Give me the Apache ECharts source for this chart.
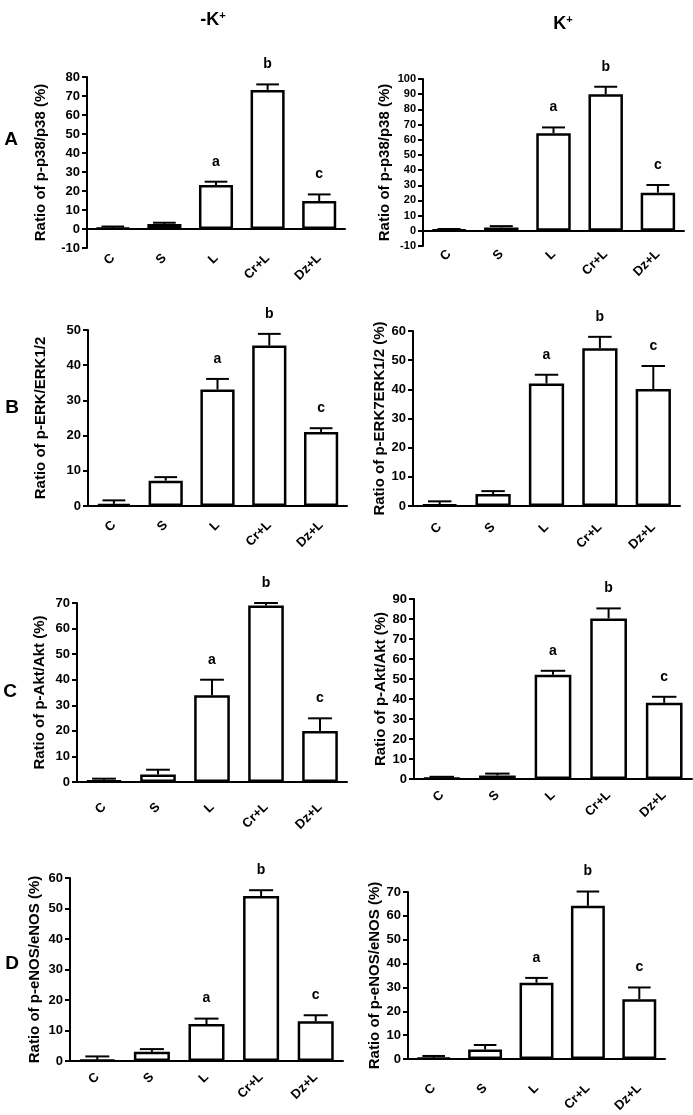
<!DOCTYPE html>
<html>
<head>
<meta charset="utf-8">
<script src="https://cdn.jsdelivr.net/npm/echarts@6/dist/echarts.min.js"></script>
<style>
html,body{margin:0;padding:0;background:#fff;}
#chart{width:693px;height:1115px;}
</style>
</head>
<body>
<div id="chart"></div>
<script>
// ---------- data ----------
const categories = ['C', 'S', 'L', 'Cr+L', 'Dz+L'];
const sigLetters = ['', '', 'a', 'b', 'c'];

const p38NoK      = [0.5, 2.6, 23.2, 73.2, 14.7];
const p38NoKErr   = [0.8, 0.7, 1.7, 2.9, 3.5];
const p38K        = [0.6, 2.2, 64.3, 89.9, 25.1];
const p38KErr     = [0.6, 0.9, 3.8, 5.0, 5.1];
const erkNoK      = [0.6, 7.2, 33.1, 45.6, 21.0];
const erkNoKErr   = [1.0, 1.0, 3.0, 3.3, 1.1];
const erkK        = [0.5, 4.1, 42.0, 54.1, 40.1];
const erkKErr     = [1.1, 1.0, 3.0, 3.9, 7.9];
const aktNoK      = [0.5, 2.9, 33.9, 69.0, 19.9];
const aktNoKErr   = [0.8, 1.9, 6.1, 1.0, 5.0];
const aktK        = [0.4, 1.8, 52.1, 80.3, 38.1];
const aktKErr     = [0.7, 0.9, 2.0, 5.0, 3.0];
const enosNoK     = [0.4, 3.0, 12.1, 54.1, 13.0];
const enosNoKErr  = [1.1, 0.9, 1.8, 1.9, 2.0];
const enosK       = [0.5, 4.0, 32.0, 64.2, 25.1];
const enosKErr    = [0.8, 1.9, 2.0, 6.0, 4.9];

const yNames = [
  'Ratio of p-p38/p38 (%)', 'Ratio of p-p38/p38 (%)',
  'Ratio of p-ERK/ERK1/2', 'Ratio of p-ERK7ERK1/2 (%)',
  'Ratio of p-Akt/Akt (%)', 'Ratio of p-Akt/Akt (%)',
  'Ratio of p-eNOS/eNOS (%)', 'Ratio of p-eNOS/eNOS (%)'
];
const yMins = [-10, -10, 0, 0, 0, 0, 0, 0];
const yMaxs = [80, 100, 50, 60, 70, 90, 60, 70];
const yInterval = 10;

const panelMeans = [p38NoK, p38K, erkNoK, erkK, aktNoK, aktK, enosNoK, enosK];
const panelErrs  = [p38NoKErr, p38KErr, erkNoKErr, erkKErr, aktNoKErr, aktKErr, enosNoKErr, enosKErr];

const columnTitles = ['-K', 'K'];
const rowLetters = ['A', 'B', 'C', 'D'];

// ---------- layout ----------
const grids = [
  {left: 87,  top: 77,  width: 258, height: 171},
  {left: 423, top: 79,  width: 261, height: 167},
  {left: 88,  top: 330, width: 259, height: 176},
  {left: 413, top: 331, width: 267, height: 175},
  {left: 77,  top: 603, width: 270, height: 179},
  {left: 414, top: 599, width: 278, height: 180},
  {left: 70,  top: 878, width: 273, height: 183},
  {left: 408, top: 892, width: 257, height: 169}
];
const nameGaps = [39, 31, 40, 21, 30, 22, 28, 23];
const labelMargins = [8, 6, 17, 19, 23, 14, 14, 27];
const tickFontSizes = [13, 11, 13, 13, 13, 13, 13, 13];

const FONT = '"Liberation Sans", Arial, sans-serif';

const option = {
  backgroundColor: '#fff',
  animation: false,
  grid: [], xAxis: [], yAxis: [], series: [],
  graphic: []
};

for (let p = 0; p < 8; p++) {
  option.grid.push(Object.assign({containLabel: false}, grids[p]));
  option.xAxis.push({
    type: 'category', gridIndex: p, data: categories,
    axisLine: {onZero: true, lineStyle: {color: '#000', width: 2}},
    axisTick: {show: false},
    axisLabel: {rotate: 45, interval: 0, color: '#000', fontWeight: 'bold',
      fontSize: 13, fontFamily: FONT, margin: labelMargins[p]},
    splitLine: {show: false}
  });
  option.yAxis.push({
    type: 'value', gridIndex: p, min: yMins[p], max: yMaxs[p], interval: yInterval,
    name: yNames[p], nameLocation: 'middle', nameGap: nameGaps[p],
    nameTextStyle: {color: '#000', fontWeight: 'bold', fontSize: 15, fontFamily: FONT},
    axisLine: {show: true, onZero: false, lineStyle: {color: '#000', width: 2}},
    axisTick: {show: true, length: 5, lineStyle: {color: '#000', width: 2}},
    axisLabel: {color: '#000', fontWeight: 'bold', fontSize: tickFontSizes[p], fontFamily: FONT, margin: 7},
    splitLine: {show: false}
  });
  option.series.push({
    type: 'bar', xAxisIndex: p, yAxisIndex: p,
    data: panelMeans[p], barWidth: '66%',
    itemStyle: {color: '#fff', borderColor: '#000', borderWidth: 2.5},
    z: 2
  });
  const errData = panelMeans[p].map((m, i) => [i, m, panelErrs[p][i]]);
  option.series.push({
    type: 'custom', xAxisIndex: p, yAxisIndex: p,
    data: errData, encode: {x: 0, y: 1}, z: 3,
    renderItem: function (params, api) {
      const i = api.value(0), m = api.value(1), e = api.value(2);
      const base = api.coord([i, m]);
      const top = api.coord([i, m + e]);
      const half = api.size([1, 0])[0] * 0.22;
      const st = {stroke: '#000', lineWidth: 2};
      const children = [
        {type: 'line', shape: {x1: base[0], y1: base[1], x2: top[0], y2: top[1]}, style: st},
        {type: 'line', shape: {x1: top[0] - half, y1: top[1], x2: top[0] + half, y2: top[1]}, style: st}
      ];
      const letter = sigLetters[i];
      if (letter) {
        children.push({type: 'text', x: top[0], y: top[1] - 13,
          style: {text: letter, fill: '#000', font: 'bold 14px ' + FONT,
            textAlign: 'center', textVerticalAlign: 'bottom'}});
      }
      return {type: 'group', children: children};
    }
  });
}

// column titles
const titlePos = [[213, 20], [563, 24]];
columnTitles.forEach((t, k) => {
  option.graphic.push({
    type: 'text', x: titlePos[k][0], y: titlePos[k][1],
    style: {text: '{m|' + t + '}{s|+}', textAlign: 'center', textVerticalAlign: 'middle',
      rich: {
        m: {fontSize: 18, fontWeight: 'bold', fontFamily: FONT, color: '#000'},
        s: {fontSize: 11, fontWeight: 'bold', fontFamily: FONT, color: '#000', verticalAlign: 'top', padding: [0, 0, 8, 0]}
      }}
  });
});
// row letters
const rowPos = [[11, 140], [12, 408], [10, 692], [12, 964]];
rowLetters.forEach((t, k) => {
  option.graphic.push({
    type: 'text', x: rowPos[k][0], y: rowPos[k][1],
    style: {text: t, font: 'bold 19px ' + FONT, fill: '#000', textAlign: 'center', textVerticalAlign: 'middle'}
  });
});

const chart = echarts.init(document.getElementById('chart'), null, {renderer: 'canvas'});
chart.setOption(option);
</script>
</body>
</html>
